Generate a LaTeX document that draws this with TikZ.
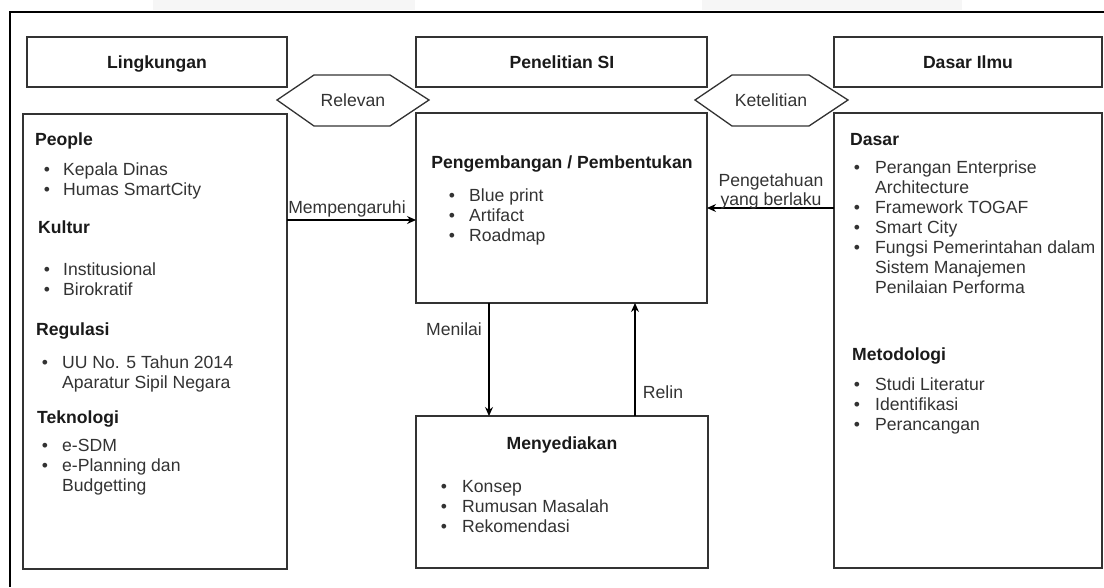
\documentclass[tikz,border=0pt]{standalone}
\usepackage{fontspec}
\setmainfont{Liberation Sans}
\usetikzlibrary{arrows.meta}
\definecolor{boxline}{HTML}{333333}
\definecolor{bodytext}{HTML}{333333}
\definecolor{headtext}{HTML}{1A1A1A}
\begin{document}
\begin{tikzpicture}[x=1pt,y=-1pt,
  box/.style={draw=boxline,line width=1.3pt,inner sep=0pt,outer sep=0pt,anchor=north west},
  body/.style={inner sep=0pt,anchor=base west,text=bodytext,font=\fontsize{17.6}{20}\selectfont},
  head/.style={inner sep=0pt,anchor=base west,text=headtext,font=\fontsize{17.6}{20}\selectfont\bfseries},
  headc/.style={inner sep=0pt,anchor=base,text=headtext,font=\fontsize{17.6}{20}\selectfont\bfseries},
  lab/.style={inner sep=0pt,anchor=base,text=bodytext,font=\fontsize{17.6}{20}\selectfont},
  bul/.style={inner sep=0pt,anchor=base,text=bodytext,font=\fontsize{17.6}{20}\selectfont},
  arr/.style={draw=black,line width=1.2pt,-{Stealth[length=9pt,width=8pt]}},
  hexa/.style={draw=boxline,line width=1.3pt,fill=white}
]
\useasboundingbox (0,0) rectangle (1104,587);
% faint bands and frame
\fill[gray!7] (153,0) rectangle (415,10);
\fill[gray!7] (702,0) rectangle (962,10);
\draw[black,line width=1.5pt] (1104,12) -- (10,12) -- (10,587);

% header boxes
\node[box,minimum width=260pt,minimum height=50pt] (hl) at (27,37) {};
\node[box,minimum width=291pt,minimum height=50pt] (hc) at (416,37) {};
\node[box,minimum width=268pt,minimum height=50pt] (hr) at (834,37) {};
\node[headc] (thl) at (157,68) {Lingkungan};
\node[headc] (thc) at (562,68) {Penelitian SI};
\node[headc] (thr) at (968,68) {Dasar Ilmu};

% content boxes
\node[box,minimum width=264pt,minimum height=455pt] (lbox) at (23,114) {};
\node[box,minimum width=291pt,minimum height=190pt] (ctop) at (416,113) {};
\node[box,minimum width=292pt,minimum height=152pt] (meny) at (416,416) {};
\node[box,minimum width=268pt,minimum height=455pt] (rbox) at (834,113) {};

% hexagons
\draw[hexa] (277,100) -- (314,75) -- (390,75) -- (429,100) -- (390,126) -- (314,126) -- cycle;
\node[lab] (relevan) at (353,106) {Relevan};
\draw[hexa] (695,100) -- (732,75) -- (809,75) -- (848,100) -- (809,126) -- (732,126) -- cycle;
\node[lab] (ketelitian) at (771,106) {Ketelitian};

% left box text
\node[head] (people) at (35,145) {People};
\node[bul] (b1) at (47,175) {\textbullet};
\node[body] (t1) at (63,175) {Kepala Dinas};
\node[bul] (b2) at (47,195) {\textbullet};
\node[body] (t2) at (63,195) {Humas SmartCity};
\node[head] (kultur) at (38,233) {Kultur};
\node[bul] (b3) at (47,275) {\textbullet};
\node[body] (t3) at (63,275) {Institusional};
\node[bul] (b4) at (47,295) {\textbullet};
\node[body] (t4) at (63,295) {Birokratif};
\node[head] (regulasi) at (36,335) {Regulasi};
\node[bul] (b5) at (45,368) {\textbullet};
\node[body] (t5) at (62,368) {UU No. 5 Tahun 2014};
\node[body] (t6) at (62,388) {Aparatur Sipil Negara};
\node[head] (teknologi) at (37,423) {Teknologi};
\node[bul] (b7) at (45,451) {\textbullet};
\node[body] (t7) at (62,451) {e-SDM};
\node[bul] (b8) at (45,471) {\textbullet};
\node[body] (t8) at (62,471) {e-Planning dan};
\node[body] (t9) at (62,491) {Budgetting};

% center top text
\node[headc] (peng) at (562,168) {Pengembangan / Pembentukan};
\node[bul] (c1b) at (452,201) {\textbullet};
\node[body] (c1) at (469,201) {Blue print};
\node[bul] (c2b) at (452,221) {\textbullet};
\node[body] (c2) at (469,221) {Artifact};
\node[bul] (c3b) at (452,241) {\textbullet};
\node[body] (c3) at (469,241) {Roadmap};

% menyediakan text
\node[headc] (menyt) at (562,449) {Menyediakan};
\node[bul] (m1b) at (444,492) {\textbullet};
\node[body] (m1) at (462,492) {Konsep};
\node[bul] (m2b) at (444,512) {\textbullet};
\node[body] (m2) at (462,512) {Rumusan Masalah};
\node[bul] (m3b) at (444,532) {\textbullet};
\node[body] (m3) at (462,532) {Rekomendasi};

% right box text
\node[head] (dasar) at (850,145) {Dasar};
\node[bul] (r1b) at (857,173) {\textbullet};
\node[body] (r1) at (875,173) {Perangan Enterprise};
\node[body] (r1a) at (875,193) {Architecture};
\node[bul] (r2b) at (857,213) {\textbullet};
\node[body] (r2) at (875,213) {Framework TOGAF};
\node[bul] (r3b) at (857,233) {\textbullet};
\node[body] (r3) at (875,233) {Smart City};
\node[bul] (r4b) at (857,253) {\textbullet};
\node[body] (r4) at (875,253) {Fungsi Pemerintahan dalam};
\node[body] (r4a) at (875,273) {Sistem Manajemen};
\node[body] (r4c) at (875,293) {Penilaian Performa};
\node[head] (metod) at (852,360) {Metodologi};
\node[bul] (r5b) at (857,390) {\textbullet};
\node[body] (r5) at (875,390) {Studi Literatur};
\node[bul] (r6b) at (857,410) {\textbullet};
\node[body] (r6) at (875,410) {Identifikasi};
\node[bul] (r7b) at (857,430) {\textbullet};
\node[body] (r7) at (875,430) {Perancangan};

% connectors
\coordinate (ym) at (0,220);
\coordinate (yp) at (0,208);
\coordinate (xn) at (489,0);
\coordinate (xr) at (635,0);
\draw[arr] (lbox.east |- ym) -- (ctop.west |- ym);
\node[lab] (mempeng) at (347,213) {Mempengaruhi};
\draw[arr] (rbox.west |- yp) -- (ctop.east |- yp);
\node[lab] (penget1) at (771,186) {Pengetahuan};
\node[lab] (penget2) at (771,205) {yang berlaku};
\draw[arr] (xn |- ctop.south) -- (xn |- meny.north);
\node[lab] (menilai) at (454,335) {Menilai};
\draw[arr] (xr |- meny.north) -- (xr |- ctop.south);
\node[lab] (relin) at (663,398) {Relin};
\end{tikzpicture}
\end{document}
